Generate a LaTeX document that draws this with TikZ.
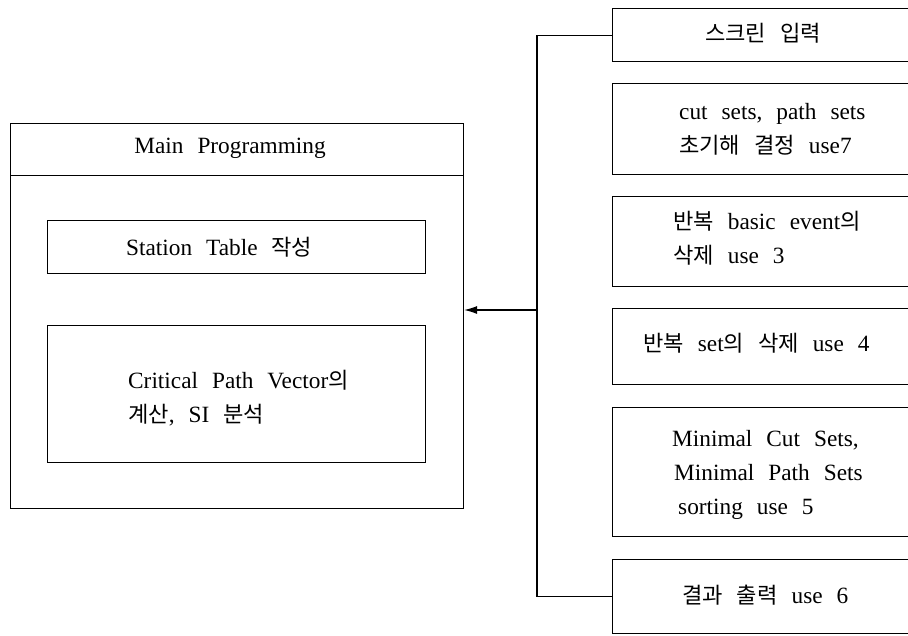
\documentclass[tikz,border=0pt]{standalone}
\usepackage{fontspec}
\setmainfont{Liberation Serif}
\newfontfamily\kr[Scale=0.95]{Noto Sans CJK KR}
\usetikzlibrary{arrows.meta}
\newcommand\mytxtfont{\fontsize{23.3}{34}\selectfont\spaceskip=0.6em\relax}
\tikzset{
  box/.style={draw, line width=1.1pt, rectangle, inner sep=0pt, anchor=north west},
  txt/.style={font=\mytxtfont, align=left, inner sep=0pt, anchor=west},
  conn/.style={line width=1.1pt},
}
\begin{document}
\begin{tikzpicture}[x=1pt,y=-1pt]
\useasboundingbox (0,0) rectangle (908,635);
\clip (0,0) rectangle (908,635);
% left main block
\node[box, minimum width=453pt, minimum height=52pt] (mainhead) at (10,123) {};
\node[box, minimum width=453pt, minimum height=333pt] (mainbody) at (10,175) {};
\node[txt, anchor=center] (maintxt) at (230,148) {Main Programming};
\node[box, minimum width=378pt, minimum height=53pt] (station) at (47,220) {};
\node[txt] (stationtxt) at (126,247) {Station Table {\kr 작성}};
\node[box, minimum width=378pt, minimum height=137pt] (critical) at (47,325) {};
\node[txt] (criticaltxt) at (128,398) {Critical Path Vector{\kr 의}\\{\kr 계산}, SI {\kr 분석}};
% right boxes
\node[box, minimum width=330pt, minimum height=53pt] (b1) at (612,8) {};
\node[box, minimum width=330pt, minimum height=91pt] (b2) at (612,83) {};
\node[box, minimum width=330pt, minimum height=90pt] (b3) at (612,196) {};
\node[box, minimum width=330pt, minimum height=76pt] (b4) at (612,308) {};
\node[box, minimum width=330pt, minimum height=129pt] (b5) at (612,407) {};
\node[box, minimum width=330pt, minimum height=74pt] (b6) at (612,559) {};
\node[txt] (t1) at (705,33) {{\kr 스크린 입력}};
\node[txt] (t2) at (679,129) {cut sets, path sets\\{\kr 초기해 결정} use7};
\node[txt] (t3) at (673,238) {{\kr 반복} basic event{\kr 의}\\{\kr 삭제} use 3};
\node[txt] (t4) at (643,343) {{\kr 반복} set{\kr 의 삭제} use 4};
\node[txt] (t5) at (672,475) {Minimal Cut Sets,\\\hspace{2pt}Minimal Path Sets\\\hspace{6pt}sorting use 5};
\node[txt] (t6) at (682,595) {{\kr 결과 출력} use 6};
% connectors
\coordinate (bus) at (537,310);
\draw[conn] (b1.west) -- (b1.west -| bus) -- (b6.west -| bus) -- (b6.west);
\draw[conn, -{Latex[length=13pt,width=8pt]}] (bus) -- (mainbody.east |- bus);
\end{tikzpicture}
\end{document}
